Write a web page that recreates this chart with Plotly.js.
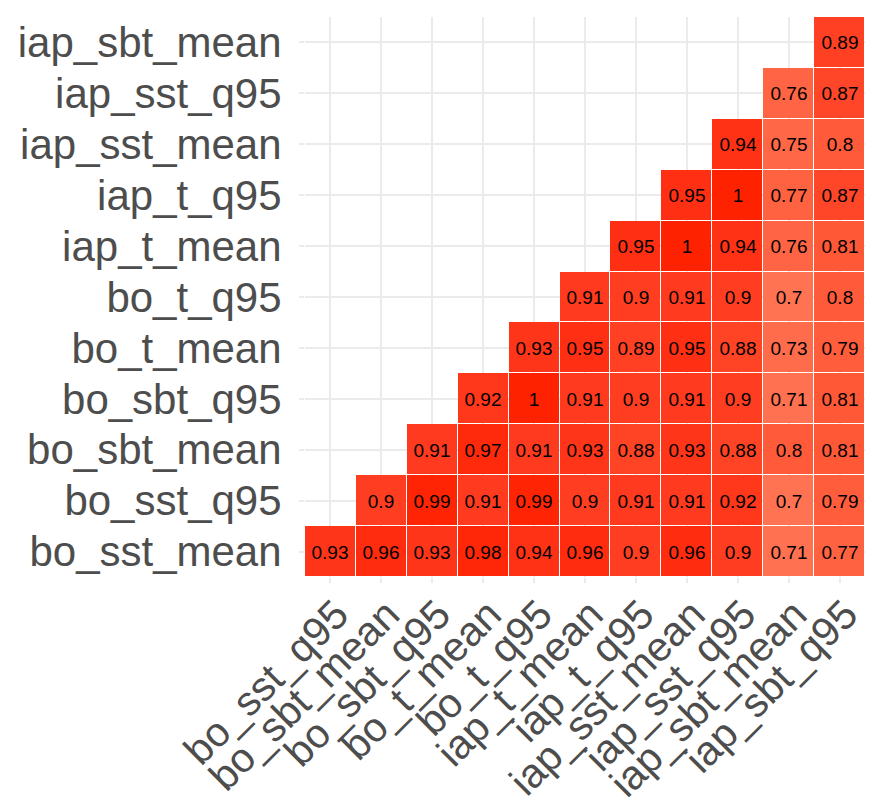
<!DOCTYPE html>
<html>
<head>
<meta charset="utf-8">
<script src="https://cdn.plot.ly/plotly-3.0.1.min.js"></script>
<style>html,body{margin:0;padding:0;background:#fff;}#chart{width:876px;height:806px;}</style>
</head>
<body>
<div id="chart"></div>
<script>
// x-axis categories (left to right)
const xCats = ["bo_sst_q95","bo_sbt_mean","bo_sbt_q95","bo_t_mean","bo_t_q95","iap_t_mean","iap_t_q95","iap_sst_mean","iap_sst_q95","iap_sbt_mean","iap_sbt_q95"];
// y-axis categories (bottom to top)
const yCats = ["bo_sst_mean","bo_sst_q95","bo_sbt_mean","bo_sbt_q95","bo_t_mean","bo_t_q95","iap_t_mean","iap_t_q95","iap_sst_mean","iap_sst_q95","iap_sbt_mean"];

// correlation values per row (y category), starting at x column index = row index
const row_bo_sst_mean  = [0.93,0.96,0.93,0.98,0.94,0.96,0.9,0.96,0.9,0.71,0.77];
const row_bo_sst_q95   = [0.9,0.99,0.91,0.99,0.9,0.91,0.91,0.92,0.7,0.79];
const row_bo_sbt_mean  = [0.91,0.97,0.91,0.93,0.88,0.93,0.88,0.8,0.81];
const row_bo_sbt_q95   = [0.92,1,0.91,0.9,0.91,0.9,0.71,0.81];
const row_bo_t_mean    = [0.93,0.95,0.89,0.95,0.88,0.73,0.79];
const row_bo_t_q95     = [0.91,0.9,0.91,0.9,0.7,0.8];
const row_iap_t_mean   = [0.95,1,0.94,0.76,0.81];
const row_iap_t_q95    = [0.95,1,0.77,0.87];
const row_iap_sst_mean = [0.94,0.75,0.8];
const row_iap_sst_q95  = [0.76,0.87];
const row_iap_sbt_mean = [0.89];

const rows = [row_bo_sst_mean,row_bo_sst_q95,row_bo_sbt_mean,row_bo_sbt_q95,row_bo_t_mean,row_bo_t_q95,row_iap_t_mean,row_iap_t_q95,row_iap_sst_mean,row_iap_sst_q95,row_iap_sbt_mean];

const z = [], txt = [];
rows.forEach((r, i) => {
  const zr = [], tr = [];
  for (let j = 0; j < xCats.length; j++) {
    const k = j - i;
    if (k >= 0 && k < r.length) { zr.push(r[k]); tr.push(String(r[k])); }
    else { zr.push(null); tr.push(""); }
  }
  z.push(zr); txt.push(tr);
});

const font = "Liberation Sans, Arial, Helvetica, sans-serif";

const trace = {
  type: "heatmap",
  x: xCats, y: yCats, z: z, text: txt,
  texttemplate: "%{text}",
  textfont: {family: font, size: 19, color: "#000000"},
  zmin: 0.7, zmax: 1,
  colorscale: [[0,"#FF7352"],[0.3333,"#FF5B3A"],[0.6667,"#FF3D20"],[0.8333,"#FF2F14"],[1,"#FF2200"]],
  showscale: false,
  xgap: 1, ygap: 1,
  hoverongaps: false
};

const axisCommon = {
  type: "category",
  showgrid: true, gridcolor: "#EBEBEB", gridwidth: 2,
  zeroline: false, showline: false,
  ticks: "outside", ticklen: 5, tickcolor: "#EBEBEB", tickwidth: 2,
  tickfont: {family: font, size: 42, color: "#4D4D4D"}
};

const layout = {
  width: 876, height: 806,
  margin: {l: 305, r: 11, t: 17, b: 229},
  paper_bgcolor: "#FFFFFF", plot_bgcolor: "#FFFFFF",
  xaxis: Object.assign({}, axisCommon, {range: [-0.5, 10.5], tickangle: -45, categoryorder: "array", categoryarray: xCats, ticklabelstandoff: -9, ticklabelshift: 6, tickfont: {family: font, size: 41, color: "#4D4D4D"}}),
  yaxis: Object.assign({}, axisCommon, {range: [-0.5, 10.5], categoryorder: "array", categoryarray: yCats, ticklabelstandoff: 9}),
  showlegend: false
};

Plotly.newPlot("chart", [trace], layout, {displayModeBar: false, staticPlot: true});
</script>
</body>
</html>
